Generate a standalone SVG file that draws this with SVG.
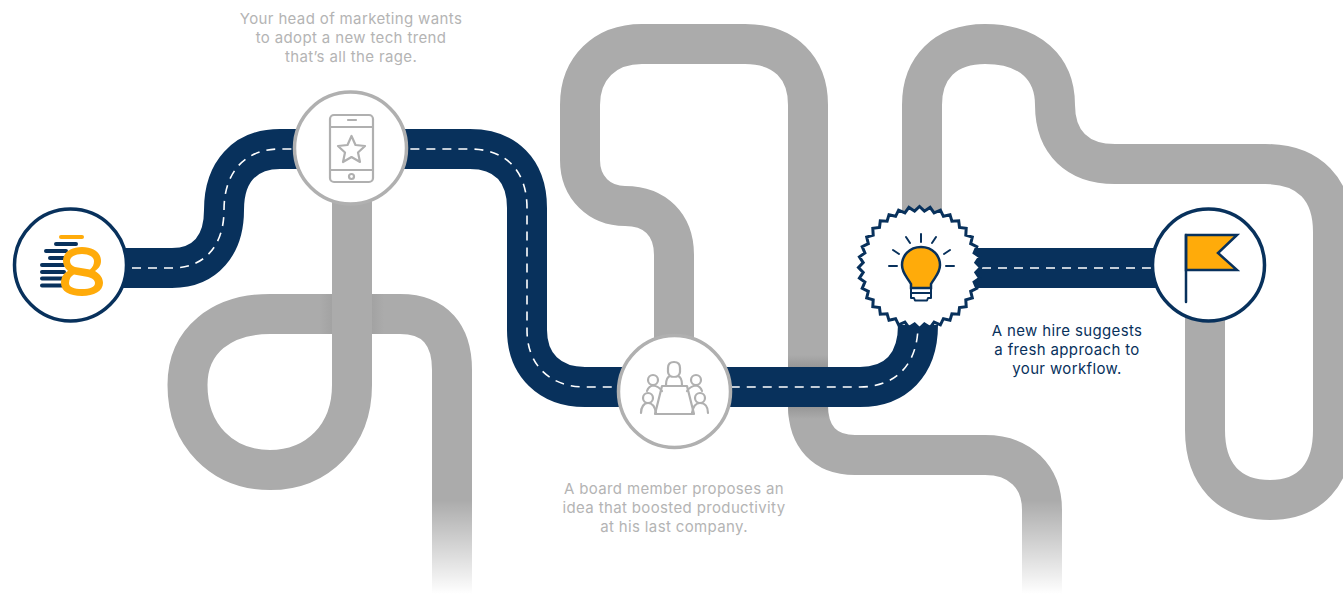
<svg xmlns="http://www.w3.org/2000/svg" width="1343" height="594" viewBox="0 0 1343 594">
<style>
.road{fill:none;stroke-width:40}
.gray{stroke:#ababab}
.blue{stroke:#08315c}
.dash{fill:none;stroke:#fff;stroke-width:1.6;stroke-dasharray:9 7}
.disc{fill:#fff;stroke-width:3.5}
.ln{fill:none;stroke:#b0b0b0;stroke-width:2.2;stroke-linejoin:round;stroke-linecap:round}
.nv{fill:none;stroke:#08315c;stroke-width:2;stroke-linecap:round;stroke-linejoin:round}
text{font-family:Inter,"Liberation Sans",sans-serif;font-size:15px;letter-spacing:.36px;text-anchor:middle}
.tg{fill:#b4b4b4}
.tb{fill:#08315c}
</style>
<defs>
<linearGradient id="fadeL" x1="0" y1="500" x2="0" y2="594" gradientUnits="userSpaceOnUse"><stop offset="0" stop-color="#fff" stop-opacity="0"/><stop offset="1" stop-color="#fff"/></linearGradient>
<linearGradient id="shH" x1="0" y1="0" x2="1" y2="0"><stop offset="0" stop-color="#9a9a9a" stop-opacity="0"/><stop offset="1" stop-color="#9a9a9a" stop-opacity=".5"/></linearGradient>
<linearGradient id="shV" x1="0" y1="0" x2="0" y2="1"><stop offset="0" stop-color="#8a8a8a" stop-opacity="0"/><stop offset="1" stop-color="#8a8a8a" stop-opacity=".6"/></linearGradient>
</defs>
<g id="connectors">
<path class="road gray" d="M352 200V385C352 435 318 470 270 470C222 470 187.500 435 187.500 385C187.500 340 222 314 270 314H400C435 314 452 335 452 370V594"/>
<path class="road gray" d="M674 345V255C674 225 655 206 625 206C600 206 580 188 580 160V105C580 68 605 44 642 44H745C785 44 808 68 808 105V405C808 437 825 455 855 455H985C1020 455 1042 477 1042 510V594"/>
<path class="road gray" d="M922 215V105C922 68 945 44 985 44C1030 44 1055 68 1055 105C1055 143 1078 164 1115 164H1265C1310 164 1333 190 1333 232V430C1333 475 1310 500 1270 500C1230 500 1205 475 1205 430V315"/>
<rect x="320" y="294" width="12" height="40" fill="url(#shH)"/>
<rect x="372" y="294" width="12" height="40" fill="url(#shH)" transform="matrix(-1 0 0 1 756 0)"/>
<rect x="788" y="355" width="40" height="12" fill="url(#shV)"/>
<rect x="788" y="407" width="40" height="12" fill="url(#shV)" transform="matrix(1 0 0 -1 0 826)"/>
<rect x="430" y="500" width="44" height="94" fill="url(#fadeL)"/>
<rect x="1020" y="500" width="44" height="94" fill="url(#fadeL)"/>
<path id="blue-1" class="road blue" d="M120 268H172C205 268 224 245 224 210C224 172 245 149 280 149H470C505 149 527 170 527 208V330C527 365 550 387 585 387H860C895 387 918 365 918 325"/>
<path class="road blue" d="M970 268H1160"/>
<path class="dash" d="M132 268H172C205 268 224 245 224 210C224 172 245 149 280 149H470C505 149 527 170 527 208V330C527 365 550 387 585 387H860C895 387 918 365 918 325"/>
<path class="dash" d="M982 268H1156"/>
</g>
<g id="node-logo">
<circle class="disc" cx="70.500" cy="265" r="56" stroke="#08315c"/>
<g stroke-width="4" stroke-linecap="round" fill="none">
<path stroke="#ffab0a" d="M61 237H82"/>
<path stroke="#08315c" d="M56 244H76M46 251H66M50 258H64M42 265H64M42 272H64M42 278.500H64M42 285.500H64"/>
</g>
<path fill="#ffab0a" fill-rule="evenodd" d="M82 247C94 247 101 253 101 261C101 266 98 269 95 271C100 274 103 278 103 283C103 291 94 296 82 296C69 296 61 291 61 283C61 277 64 273 68 271C65 268 63 265 63 261C63 253 70 247 82 247ZM82 254C75 254 70 257 70 261C70 264 72 266 75 267L90 269.500C93 267 94 264 94 261C94 257 89 254 82 254ZM74 274.500C71 276 69 279 69 283C69 287 74 289 82 289C90 289 95 287 95 283C95 280 92 278 88 277Z"/>
</g>
<g id="node-phone">
<circle class="disc" cx="350.500" cy="148" r="56" stroke="#b0b0b0"/>
<rect class="ln" x="330" y="115" width="43" height="67" rx="4"/>
<path class="ln" d="M330 127H373M330 170H373M348 120H356"/>
<circle class="ln" cx="351.500" cy="176.500" r="2.500"/>
<path class="ln" d="M351.500 136L355.500 145L365 146L358 152.500L360 162L351.500 157L343 162L345 152.500L338 146L347.500 145Z"/>
</g>
<g id="node-board">
<circle class="disc" cx="674.500" cy="391.500" r="56" stroke="#b0b0b0"/>
<g class="ln">
<path d="M662 386H687L694 414H655Z"/>
<path d="M666 385C666 381 667 377 670 376C669 375 668 374 668 372V368C668 364 670 362 674 362C678 362 680 364 680 368V372C680 374 679 375 678 376C681 377 682 381 682 385M670 376C672 377 676 377 678 376"/>
<circle cx="653" cy="380" r="5"/><circle cx="696" cy="380" r="5"/>
<circle cx="648" cy="398" r="5"/><circle cx="700" cy="398" r="5"/>
<path d="M647 391C648 388 650 386 653 385.500C657 386 660 388 662 391M702 391C701 388 699 386 696 385.500C692 386 689 388 687 391"/>
<path d="M641 413C641 407 644 403 648 403C652 403 655 407 656 413M708 413C708 407 705 403 700 403C696 403 693 407 692 413"/>
</g>
</g>
<g id="node-bulb">
<path id="burst" transform="translate(919.500 267.500)" fill="#fff" stroke="#08315c" stroke-width="3" stroke-linejoin="miter" d="M61 0L56.300 4.900L60.100 10.600L54.600 14.600L57.300 20.900L51.200 23.900L52.800 30.500L46.300 32.400L46.700 39.200L40 40L39.200 46.700L32.400 46.300L30.500 52.800L23.900 51.200L20.900 57.300L14.600 54.600L10.600 60.100L4.900 56.300L0 61L-4.900 56.300L-10.600 60.100L-14.600 54.600L-20.900 57.300L-23.900 51.200L-30.500 52.800L-32.400 46.300L-39.200 46.700L-40 40L-46.700 39.200L-46.300 32.400L-52.800 30.500L-51.200 23.900L-57.300 20.900L-54.600 14.600L-60.100 10.600L-56.300 4.900L-61 0L-56.300 -4.900L-60.100 -10.600L-54.600 -14.600L-57.300 -20.900L-51.200 -23.900L-52.800 -30.500L-46.300 -32.400L-46.700 -39.200L-40 -40L-39.200 -46.700L-32.400 -46.300L-30.500 -52.800L-23.900 -51.200L-20.900 -57.300L-14.600 -54.600L-10.600 -60.100L-4.900 -56.300L0 -61L4.900 -56.300L10.600 -60.100L14.600 -54.600L20.900 -57.300L23.900 -51.200L30.500 -52.800L32.400 -46.300L39.200 -46.700L40 -40L46.700 -39.200L46.300 -32.400L52.800 -30.500L51.200 -23.900L57.300 -20.900L54.600 -14.600L60.100 -10.600L56.300 -4.900Z"/>
<path d="M921 247C933 247 940 256 940 265C940 273 935 277 931 284V288H911V284C907 277 902 273 902 265C902 256 909 247 921 247Z" fill="#ffab0a" stroke="#08315c" stroke-width="2.500"/>
<path class="nv" d="M911 288H931V298H928L927 300.500H915L914 298H911ZM912 293H930M921 234V242M906 237L910 243M936 237L932 243M893 250L899 254M950 250L944 254M889 266H897M946 266H954"/>
</g>
<g id="node-flag">
<circle class="disc" cx="1208.500" cy="265" r="56" stroke="#08315c"/>
<path d="M1186 235H1237L1218 253L1237 270H1186Z" fill="#ffab0a" stroke="#08315c" stroke-width="2.500" stroke-linejoin="miter"/>
<path d="M1186 235V302" fill="none" stroke="#08315c" stroke-width="2.500" stroke-linecap="round"/>
</g>
<g id="labels">
<text class="tg" x="351" y="24">Your head of marketing wants</text>
<text class="tg" x="351" y="43">to adopt a new tech trend</text>
<text class="tg" x="351" y="62">that’s all the rage.</text>
<text class="tg" x="674" y="494">A board member proposes an</text>
<text class="tg" x="674" y="513">idea that boosted productivity</text>
<text class="tg" x="674" y="532">at his last company.</text>
<text class="tb" x="1067" y="336">A new hire suggests</text>
<text class="tb" x="1067" y="355">a fresh approach to</text>
<text class="tb" x="1067" y="374">your workflow.</text>
</g>
</svg>
